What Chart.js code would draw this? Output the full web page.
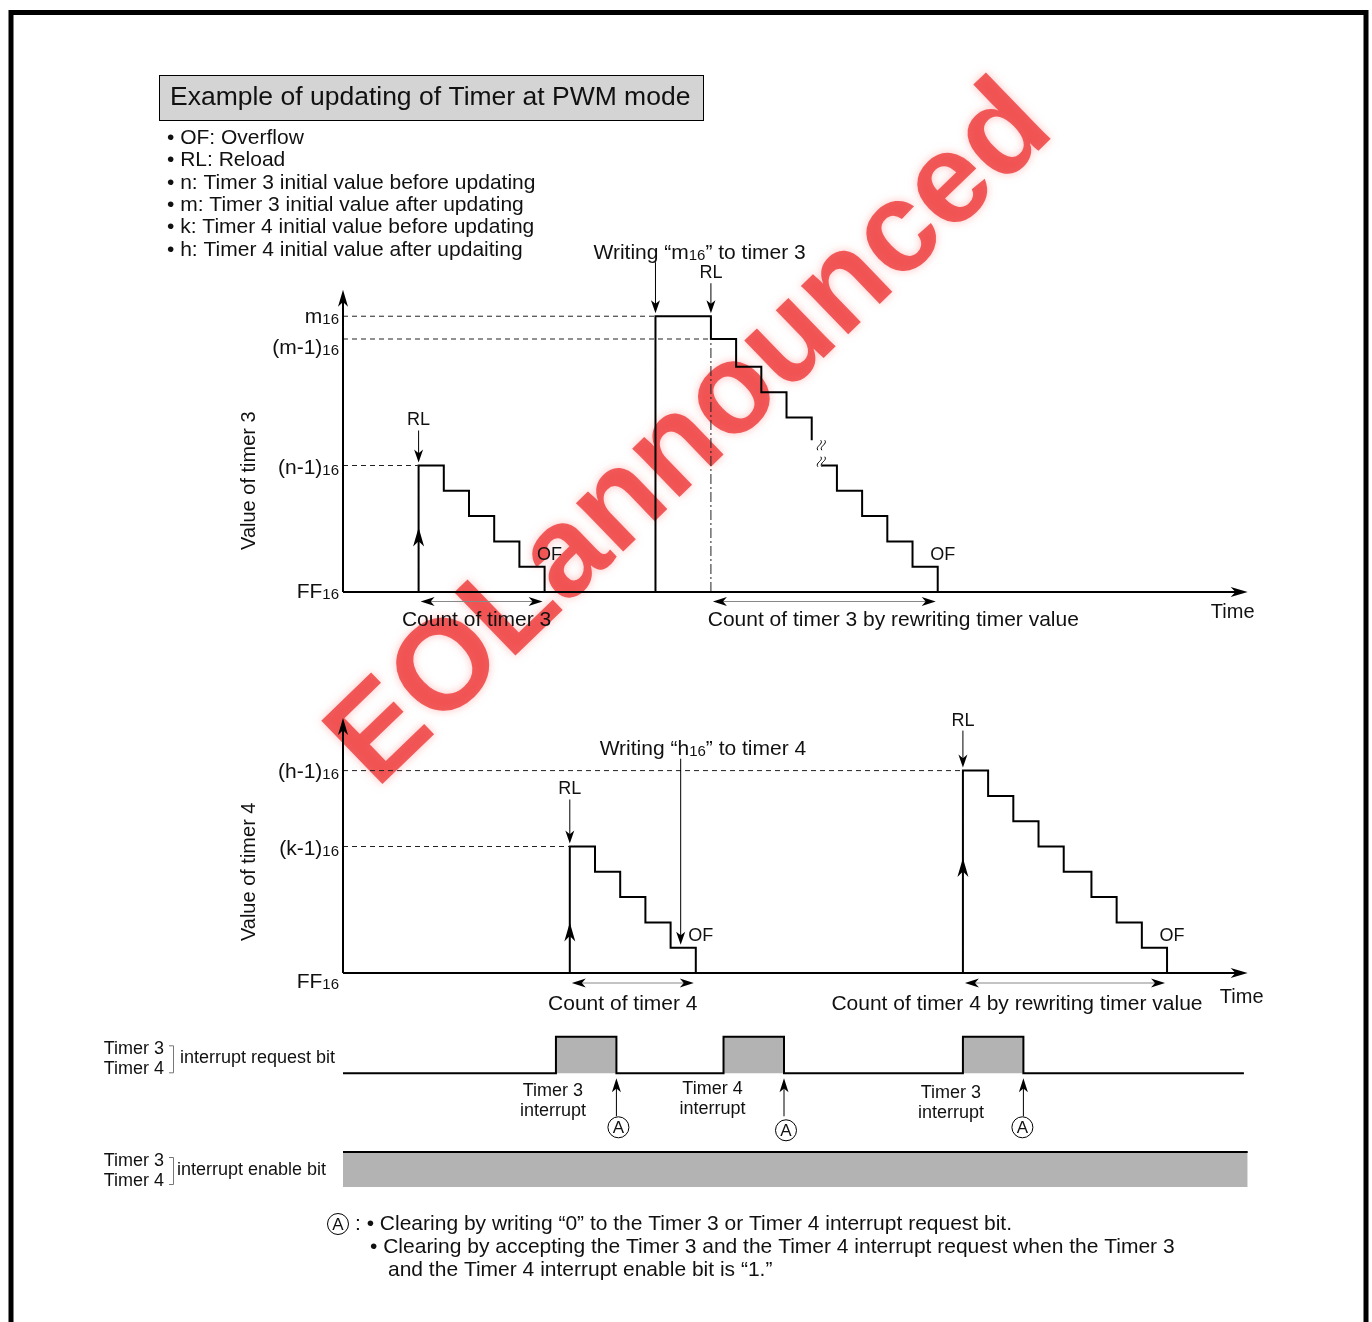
<!DOCTYPE html>
<html>
<head>
<meta charset="utf-8">
<title>Example of updating of Timer at PWM mode</title>
<script src="https://cdn.jsdelivr.net/npm/chart.js@4.4.1/dist/chart.umd.min.js"></script>
<style>
  html, body { margin: 0; padding: 0; background: #fff; }
  #wrap { position: relative; width: 1372px; height: 1322px; overflow: hidden; }
  canvas { display: block; }
</style>
</head>
<body>
<div id="wrap"><canvas id="timing" width="1372" height="1322"></canvas></div>
<script>
const W = 1372, H = 1322;
const FONT = '"Liberation Sans", Arial, Helvetica, sans-serif';

// time axis, one unit = one count period
const timeEnd = 35.9;

// timer 3
const t3FirstTimes = [3, 3, 4, 5, 6, 7, 8];
const t3FirstValues = [0, 5, 4, 3, 2, 1, 0];
const t3SecondTimes = [12.4, 12.4, 14.6, 15.6, 16.6, 17.6, 18.6];
const t3SecondValues = [0, 10.9, 10, 8.9, 7.9, 6.9, 6.0];
const t3ThirdTimes = [19.0, 19.6, 20.6, 21.6, 22.6, 23.6];
const t3ThirdValues = [5, 4, 3, 2, 1, 0];
const t3LevelValues = [0, 5, 10, 10.9];
const t3LevelNames = ['FF', '(n-1)', '(m-1)', 'm'];
const t3GuideEnds = [null, 3, 14.6, 12.4];
const t3ReloadTimes = [3, 14.6];
const t3ReloadValues = [5, 10.9];
const t3RiseTimes = [3];
const t3RiseValues = [2.55];
const t3OverflowTimes = [8, 23.6];
const t3CountSpans = [[3, 8], [14.6, 23.6]];
const t3CountNames = ['Count of timer 3', 'Count of timer 3 by rewriting timer value'];
const t3BreakValues = [5.8, 5.15];

// timer 4
const t4FirstTimes = [9, 9, 10, 11, 12, 13, 14];
const t4FirstValues = [0, 5, 4, 3, 2, 1, 0];
const t4SecondTimes = [24.6, 24.6, 25.6, 26.6, 27.6, 28.6, 29.7, 30.7, 31.7, 32.7];
const t4SecondValues = [0, 8, 7, 6, 5, 4, 3, 2, 1, 0];
const t4LevelValues = [0, 5, 8];
const t4LevelNames = ['FF', '(k-1)', '(h-1)'];
const t4GuideEnds = [null, 9, 24.6];
const t4ReloadTimes = [9, 24.6];
const t4ReloadValues = [5, 8];
const t4RiseTimes = [9, 24.6];
const t4RiseValues = [2.0, 4.55];
const t4OverflowTimes = [14, 32.7];
const t4CountSpans = [[9, 14], [24.6, 32.7]];
const t4CountNames = ['Count of timer 4', 'Count of timer 4 by rewriting timer value'];

// interrupt request / enable bits
const reqTimes = [0, 8.45, 10.85, 15.1, 17.5, 24.6, 27.0, 35.75];
const reqValues = [0, 1, 0, 1, 0, 1, 0, 0];
const reqSources = ['Timer 3', 'Timer 4', 'Timer 3'];
const reqClearTimes = [10.85, 17.5, 27.0];
const enableTimes = [0, timeEnd];
const enableValues = [1, 1];

const legendLines = [
  '• OF: Overflow',
  '• RL: Reload',
  '• n: Timer 3 initial value before updating',
  '• m: Timer 3 initial value after updating',
  '• k: Timer 4 initial value before updating',
  '• h: Timer 4 initial value after updaiting'
];
const noteLines = [
  ': • Clearing by writing “0” to the Timer 3 or Timer 4 interrupt request bit.',
  '• Clearing by accepting the Timer 3 and the Timer 4 interrupt request when the Timer 3',
  'and the Timer 4 interrupt enable bit is “1.”'
];

// row of value 0 on the page and pixels per unit for each band
const bands = { y3: [592, 25.3], y4: [973, 25.3], yReq: [1073.3, 36.6], yEn: [1187, 35] };
function bandScale(name) {
  const [zero, unit] = bands[name];
  return { type: 'linear', display: false, min: -(H - zero) / unit, max: zero / unit };
}

function series(times, values, axis, extra) {
  return Object.assign({
    data: times.map((t, i) => ({ x: t, y: values[i] })),
    yAxisID: axis, stepped: 'before', borderColor: '#000', borderWidth: 2,
    pointRadius: 0, fill: false, clip: false
  }, extra || {});
}
const guideStyle = { stepped: false, borderWidth: 1, borderColor: '#222', borderDash: [5, 4] };

const datasets = [];
t3LevelValues.forEach((v, i) => {
  if (t3GuideEnds[i] !== null) datasets.push(series([0, t3GuideEnds[i]], [v, v], 'y3', guideStyle));
});
t4LevelValues.forEach((v, i) => {
  if (t4GuideEnds[i] !== null) datasets.push(series([0, t4GuideEnds[i]], [v, v], 'y4', guideStyle));
});
datasets.push(series([t3ReloadTimes[1], t3ReloadTimes[1]], [0, t3LevelValues[2]], 'y3',
  { stepped: false, borderWidth: 1, borderColor: '#222', borderDash: [10, 3, 2, 3] }));
datasets.push(series(t3FirstTimes, t3FirstValues, 'y3'));
datasets.push(series(t3SecondTimes, t3SecondValues, 'y3'));
datasets.push(series(t3ThirdTimes, t3ThirdValues, 'y3'));
datasets.push(series(t4FirstTimes, t4FirstValues, 'y4'));
datasets.push(series(t4SecondTimes, t4SecondValues, 'y4'));
datasets.push(series(reqTimes, reqValues, 'yReq', { fill: 'origin', backgroundColor: '#b3b3b3' }));
datasets.push(series(enableTimes, enableValues, 'yEn', { stepped: false, fill: 'origin', backgroundColor: '#b3b3b3' }));

// ---- drawing helpers ----
function seg(ctx, x1, y1, x2, y2, w, color) {
  ctx.beginPath();
  ctx.lineWidth = w;
  ctx.strokeStyle = color || '#000';
  ctx.moveTo(x1, y1);
  ctx.lineTo(x2, y2);
  ctx.stroke();
}
function head(ctx, x, y, dx, dy, len, half) {
  ctx.fillStyle = '#000';
  ctx.beginPath();
  ctx.moveTo(x, y);
  ctx.lineTo(x - dx * len - dy * half, y - dy * len + dx * half);
  ctx.lineTo(x - dx * len * 0.72, y - dy * len * 0.72);
  ctx.lineTo(x - dx * len + dy * half, y - dy * len - dx * half);
  ctx.closePath();
  ctx.fill();
}
function text(ctx, s, x, y, size, align) {
  ctx.font = size + 'px ' + FONT;
  ctx.fillStyle = '#111';
  ctx.textAlign = align || 'left';
  ctx.textBaseline = 'middle';
  ctx.fillText(s, x, y);
}
// parts: odd entries are the small "16" radix marks; y is the visual middle
function rich(ctx, parts, x, y, size, small, align) {
  ctx.fillStyle = '#111';
  ctx.textAlign = 'left';
  ctx.textBaseline = 'alphabetic';
  const fonts = parts.map((p, i) => (i % 2 ? small : size) + 'px ' + FONT);
  let w = 0;
  parts.forEach((p, i) => { ctx.font = fonts[i]; w += ctx.measureText(p).width; });
  let cx = align === 'right' ? x - w : align === 'center' ? x - w / 2 : x;
  const base = y + size * 0.36;
  parts.forEach((p, i) => {
    ctx.font = fonts[i];
    ctx.fillText(p, cx, base + (i % 2 ? 1 : 0));
    cx += ctx.measureText(p).width;
  });
}
function circledA(ctx, x, y) {
  ctx.beginPath();
  ctx.lineWidth = 1;
  ctx.strokeStyle = '#000';
  ctx.arc(x, y, 10.5, 0, Math.PI * 2);
  ctx.stroke();
  text(ctx, 'A', x, y + 1, 17, 'center');
}
function sideLabel(ctx, mid, label, labelX) {
  text(ctx, 'Timer 3', 164, mid - 10, 18, 'right');
  text(ctx, 'Timer 4', 164, mid + 10, 18, 'right');
  ctx.beginPath();
  ctx.lineWidth = 1;
  ctx.strokeStyle = '#777';
  ctx.moveTo(169, mid - 13.5);
  ctx.lineTo(173.5, mid - 13.5);
  ctx.lineTo(173.5, mid + 13.5);
  ctx.lineTo(169, mid + 13.5);
  ctx.stroke();
  text(ctx, label, labelX, mid - 1, 18, 'left');
}

const panels = [
  {
    axis: 'y3', top: 11.95, title: 'Value of timer 3', titleValue: 4.4,
    levels: t3LevelValues, names: t3LevelNames, nudge: [-2, 1, 7, -1],
    reloadTimes: t3ReloadTimes, reloadValues: t3ReloadValues, rlLift: [45, 43],
    riseTimes: t3RiseTimes, riseValues: t3RiseValues, overflowTimes: t3OverflowTimes,
    countSpans: t3CountSpans, countNames: t3CountNames, countShift: [-5, 69], countDy: 28, arrowDy: 9.5,
    timeDx: -15, timeDy: 20,
    write: { time: t3SecondTimes[0], value: t3LevelValues[3], parts: ['Writing “m', '16', '” to timer 3'], dx: -62, dy: -62 },
    breakTime: t3ThirdTimes[0], breakValues: t3BreakValues
  },
  {
    axis: 'y4', top: 10.08, title: 'Value of timer 4', titleValue: 4.0,
    levels: t4LevelValues, names: t4LevelNames, nudge: [7, 1, 0],
    reloadTimes: t4ReloadTimes, reloadValues: t4ReloadValues, rlLift: [57, 50],
    riseTimes: t4RiseTimes, riseValues: t4RiseValues, overflowTimes: t4OverflowTimes,
    countSpans: t4CountSpans, countNames: t4CountNames, countShift: [-10, -48], countDy: 31, arrowDy: 10,
    timeDx: -6, timeDy: 24,
    write: { time: 13.4, value: 1, parts: ['Writing “h', '16', '” to timer 4'], dx: -81, dy: -197 }
  }
];

function drawPanel(ctx, chart, p) {
  const sx = chart.scales.x, sy = chart.scales[p.axis];
  const X = t => sx.getPixelForValue(t);
  const Y = v => sy.getPixelForValue(v);
  const x0 = X(0), y0 = Y(0), xEnd = X(timeEnd), yTop = Y(p.top);

  seg(ctx, x0, y0, x0, yTop + 8, 2);
  head(ctx, x0, yTop, 0, -1, 17, 5);
  seg(ctx, x0, y0, xEnd - 8, y0, 2);
  head(ctx, xEnd, y0, 1, 0, 17, 5);

  p.levels.forEach((v, i) => rich(ctx, [p.names[i], '16'], x0 - 4, Y(v) + p.nudge[i], 21, 15, 'right'));

  ctx.save();
  ctx.translate(x0 - 94, Y(p.titleValue));
  ctx.rotate(-Math.PI / 2);
  text(ctx, p.title, 0, 0, 20, 'center');
  ctx.restore();

  text(ctx, 'Time', xEnd + p.timeDx, y0 + p.timeDy, 20, 'center');

  p.reloadTimes.forEach((t, i) => {
    const x = X(t), y = Y(p.reloadValues[i]), lift = p.rlLift[i];
    text(ctx, 'RL', x, y - lift, 18, 'center');
    seg(ctx, x, y - lift + 10, x, y - 10, 1);
    head(ctx, x, y - 3, 0, 1, 13, 4.5);
  });

  p.riseTimes.forEach((t, i) => head(ctx, X(t), Y(p.riseValues[i]), 0, -1, 19, 5.5));

  p.overflowTimes.forEach(t => text(ctx, 'OF', X(t) + 5, Y(1) - 12, 18, 'center'));

  p.countSpans.forEach((span, i) => {
    const a = X(span[0]), b = X(span[1]), y = y0 + p.arrowDy;
    seg(ctx, a + 6, y, b - 6, y, 1, '#888');
    head(ctx, a + 2, y, -1, 0, 14, 4.5);
    head(ctx, b - 2, y, 1, 0, 14, 4.5);
    text(ctx, p.countNames[i], (a + b) / 2 + p.countShift[i], y0 + p.countDy, 21, 'center');
  });

  const w = p.write, wx = X(w.time), tip = Y(w.value) - 3;
  rich(ctx, w.parts, wx + w.dx, tip + w.dy, 21, 15, 'left');
  seg(ctx, wx, tip + w.dy + 11, wx, tip - 8, 1);
  head(ctx, wx, tip, 0, 1, 13, 4.5);

  if (p.breakValues) {
    const bx = X(p.breakTime);
    ctx.lineWidth = 1;
    ctx.strokeStyle = '#000';
    p.breakValues.forEach(v => {
      const by = Y(v);
      [-2, 2].forEach(k => {
        ctx.beginPath();
        ctx.moveTo(bx + k - 2, by + 5);
        ctx.bezierCurveTo(bx + k - 5, by + 1, bx + k + 4, by - 1, bx + k + 1, by - 5);
        ctx.stroke();
      });
    });
  }
}

// label placement next to each rising edge (pixels)
const reqLabelShift = [-3, -11, -12];
const reqLabelDrop = [18, 16, 20];

function drawBits(ctx, chart) {
  const sx = chart.scales.x;
  const X = t => sx.getPixelForValue(t);
  const base = chart.scales.yReq.getPixelForValue(0);
  reqSources.forEach((src, i) => {
    const x = X(reqTimes[1 + 2 * i]) + reqLabelShift[i];
    const y = base + reqLabelDrop[i];
    text(ctx, src, x, y, 18, 'center');
    text(ctx, 'interrupt', x, y + 20, 18, 'center');
  });
  reqClearTimes.forEach((t, i) => {
    const x = X(t);
    seg(ctx, x, base + 43, x, base + 12, 1);
    head(ctx, x, base + 5, 0, -1, 14, 4.5);
    circledA(ctx, x + (i === 2 ? -1 : 2), base + (i === 1 ? 57 : 54));
  });
  sideLabel(ctx, base - 14, 'interrupt request bit', 180);
  sideLabel(ctx, chart.scales.yEn.getPixelForValue(0) - 16, 'interrupt enable bit', 177);
}

function drawPage(ctx) {
  ctx.fillStyle = '#d4d4d4';
  ctx.fillRect(159.5, 75.5, 544, 45);
  ctx.lineWidth = 1;
  ctx.strokeStyle = '#000';
  ctx.strokeRect(159.5, 75.5, 544, 45);
  text(ctx, 'Example of updating of Timer at PWM mode', 170, 98, 26.5, 'left');

  legendLines.forEach((s, i) => text(ctx, s, 167, 138 + i * 22.4, 21, 'left'));

  circledA(ctx, 338, 1224);
  text(ctx, noteLines[0], 355, 1224, 21, 'left');
  text(ctx, noteLines[1], 370, 1247, 21, 'left');
  text(ctx, noteLines[2], 388, 1270, 21, 'left');

  ctx.lineWidth = 5;
  ctx.strokeStyle = '#000';
  ctx.strokeRect(11, 12.5, 1355, 1400);
}

const watermark = {
  id: 'watermark',
  beforeDatasetsDraw(chart) {
    const ctx = chart.ctx;
    ctx.save();
    ctx.translate(692, 436);
    ctx.rotate(-44 * Math.PI / 180);
    ctx.font = 'bold 128px ' + FONT;
    ctx.textAlign = 'center';
    ctx.textBaseline = 'middle';
    ctx.shadowColor = 'rgba(255, 170, 170, 0.9)';
    ctx.shadowBlur = 8;
    ctx.fillStyle = 'rgba(238, 55, 55, 0.8)';
    ctx.fillText('EOLannounced', 0, 0);
    ctx.restore();
  }
};

const annotations = {
  id: 'annotations',
  afterDatasetsDraw(chart) {
    const ctx = chart.ctx;
    ctx.save();
    panels.forEach(p => drawPanel(ctx, chart, p));
    drawBits(ctx, chart);
    drawPage(ctx);
    ctx.restore();
  }
};

const chart = new Chart(document.getElementById('timing'), {
  type: 'line',
  data: { datasets },
  options: {
    responsive: false,
    animation: false,
    events: [],
    layout: { padding: { left: 343, right: W - 1250.2, top: 0, bottom: 0 } },
    plugins: { legend: { display: false }, tooltip: { enabled: false } },
    scales: {
      x: { type: 'linear', display: false, min: 0, max: 36 },
      y3: bandScale('y3'),
      y4: bandScale('y4'),
      yReq: bandScale('yReq'),
      yEn: bandScale('yEn')
    }
  },
  plugins: [watermark, annotations]
});
</script>
</body>
</html>
